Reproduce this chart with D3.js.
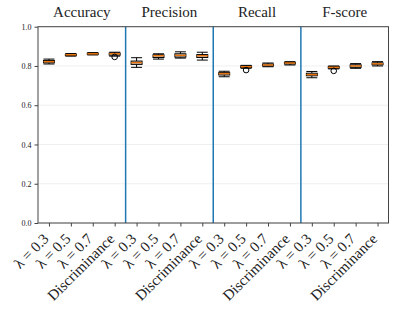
<!DOCTYPE html>
<html>
<head>
<meta charset="utf-8">
<script src="https://cdn.jsdelivr.net/npm/d3@7"></script>
<style>
  body { margin: 0; background: #fff; }
  text { font-family: "Liberation Serif", "DejaVu Serif", serif; }
</style>
</head>
<body>
<div id="chart"></div>
<script>
// panels and the methods inside each panel
var metrics = ['Accuracy', 'Precision', 'Recall', 'F-score'];
var methods = ['\u03bb = 0.3', '\u03bb = 0.5', '\u03bb = 0.7', 'Discriminance'];

// box statistics, one row per metric, one value per method
var whiskerLow = [
    [0.810, 0.850, 0.856, 0.850],
    [0.793, 0.835, 0.840, 0.830],
    [0.745, 0.788, 0.796, 0.805],
    [0.740, 0.785, 0.788, 0.800]
];
var q1 = [
    [0.816, 0.853, 0.859, 0.855],
    [0.808, 0.843, 0.845, 0.843],
    [0.754, 0.792, 0.800, 0.810],
    [0.750, 0.788, 0.793, 0.806]
];
var medians = [
    [0.822, 0.857, 0.862, 0.862],
    [0.817, 0.852, 0.854, 0.852],
    [0.761, 0.796, 0.805, 0.815],
    [0.756, 0.793, 0.800, 0.811]
];
var q3 = [
    [0.828, 0.860, 0.865, 0.866],
    [0.825, 0.857, 0.862, 0.858],
    [0.766, 0.800, 0.810, 0.818],
    [0.763, 0.797, 0.806, 0.816]
];
var whiskerHigh = [
    [0.835, 0.863, 0.868, 0.870],
    [0.842, 0.862, 0.872, 0.870],
    [0.773, 0.803, 0.815, 0.822],
    [0.772, 0.800, 0.812, 0.822]
];
// outliers: [metric index, method index, value]
var outliers = [
    [0, 3, 0.846],
    [2, 1, 0.779],
    [3, 1, 0.775]
];
var yTicks = [0.0, 0.2, 0.4, 0.6, 0.8, 1.0];

var width_svg = 399, height_svg = 310;
var margin = {left: 38, right: 10.5, top: 26.7, bottom: 87};

var svg = d3.select('#chart')
    .append('svg')
    .attr('width', width_svg)
    .attr('height', height_svg);

// flatten to one box per x position
var boxes = [];
metrics.forEach(function(m, i) {
    methods.forEach(function(meth, j) {
        boxes.push({
            pos: i * methods.length + j + 1,
            label: meth,
            lo: whiskerLow[i][j], q1: q1[i][j], med: medians[i][j],
            q3: q3[i][j], hi: whiskerHigh[i][j]
        });
    });
});

var n = boxes.length;
var x = d3.scaleLinear()
    .domain([0.5, n + 0.5])
    .range([margin.left, width_svg - margin.right]);
var y = d3.scaleLinear()
    .domain([0, 1])
    .range([height_svg - margin.bottom, margin.top]);

// grid
svg.append('g')
    .selectAll('line')
    .data(yTicks)
    .join('line')
    .attr('x1', x.range()[0]).attr('x2', x.range()[1])
    .attr('y1', d => y(d)).attr('y2', d => y(d))
    .attr('stroke', '#ebebeb')
    .attr('stroke-width', 0.8);

// panel separators
svg.append('g')
    .selectAll('line')
    .data(d3.range(1, metrics.length))
    .join('line')
    .attr('x1', d => x(d * methods.length + 0.5))
    .attr('x2', d => x(d * methods.length + 0.5))
    .attr('y1', y(0)).attr('y2', y(1))
    .attr('stroke', '#1f77b4')
    .attr('stroke-width', 1.5);

// boxes
var bw = (x(1) - x(0)) * 0.5;
var g = svg.append('g');
var box = g.selectAll('g')
    .data(boxes)
    .join('g');

box.append('line')
    .attr('x1', d => x(d.pos)).attr('x2', d => x(d.pos))
    .attr('y1', d => y(d.lo)).attr('y2', d => y(d.q1))
    .attr('stroke', '#000').attr('stroke-width', 1);
box.append('line')
    .attr('x1', d => x(d.pos)).attr('x2', d => x(d.pos))
    .attr('y1', d => y(d.q3)).attr('y2', d => y(d.hi))
    .attr('stroke', '#000').attr('stroke-width', 1);
['lo', 'hi'].forEach(function(k) {
    box.append('line')
        .attr('x1', d => x(d.pos) - bw / 2).attr('x2', d => x(d.pos) + bw / 2)
        .attr('y1', d => y(d[k])).attr('y2', d => y(d[k]))
        .attr('stroke', '#000').attr('stroke-width', 1);
});
box.append('rect')
    .attr('x', d => x(d.pos) - bw / 2)
    .attr('width', bw)
    .attr('y', d => y(d.q3))
    .attr('height', d => y(d.q1) - y(d.q3))
    .attr('fill', '#c4c4c4')
    .attr('stroke', '#000')
    .attr('stroke-width', 1);
box.append('line')
    .attr('x1', d => x(d.pos) - bw / 2).attr('x2', d => x(d.pos) + bw / 2)
    .attr('y1', d => y(d.med)).attr('y2', d => y(d.med))
    .attr('stroke', '#e8730c').attr('stroke-width', 1.5);

g.selectAll('circle')
    .data(outliers)
    .join('circle')
    .attr('cx', d => x(d[0] * methods.length + d[1] + 1))
    .attr('cy', d => y(d[2]))
    .attr('r', 2.8)
    .attr('fill', 'none')
    .attr('stroke', '#000')
    .attr('stroke-width', 1);

// frame
svg.append('rect')
    .attr('x', x.range()[0]).attr('y', y(1))
    .attr('width', x.range()[1] - x.range()[0])
    .attr('height', y(0) - y(1))
    .attr('fill', 'none')
    .attr('stroke', '#444')
    .attr('stroke-width', 1);

// y axis
var yAxis = svg.append('g')
    .attr('transform', 'translate(' + x.range()[0] + ',0)')
    .call(d3.axisLeft(y).tickValues(yTicks).tickFormat(d3.format('.1f')).tickSize(3.5).tickPadding(3));
yAxis.select('.domain').remove();
yAxis.selectAll('line').attr('stroke', '#444');
yAxis.selectAll('text').style('font-size', '8px').attr('fill', '#222')
    .style('font-family', '"Liberation Serif", serif');

// x axis
var xAxis = svg.append('g')
    .attr('transform', 'translate(0,' + y(0) + ')')
    .call(d3.axisBottom(x).tickValues(boxes.map(d => d.pos)).tickSize(3.5).tickFormat(''));
xAxis.select('.domain').remove();
xAxis.selectAll('line').attr('stroke', '#444');

svg.append('g')
    .selectAll('text')
    .data(boxes)
    .join('text')
    .attr('transform', d => 'translate(' + (x(d.pos) - 3) + ',' + (y(0) + 13) + ') rotate(-45)')
    .attr('text-anchor', 'end')
    .attr('dy', '0.35em')
    .style('font-size', '15px')
    .attr('fill', '#222')
    .text(d => d.label);

// panel titles
svg.append('g')
    .selectAll('text')
    .data(metrics)
    .join('text')
    .attr('x', (d, i) => x(i * methods.length + (methods.length + 1) / 2))
    .attr('y', 17)
    .attr('text-anchor', 'middle')
    .style('font-size', '15px')
    .attr('fill', '#222')
    .text(d => d);
</script>
</body>
</html>
